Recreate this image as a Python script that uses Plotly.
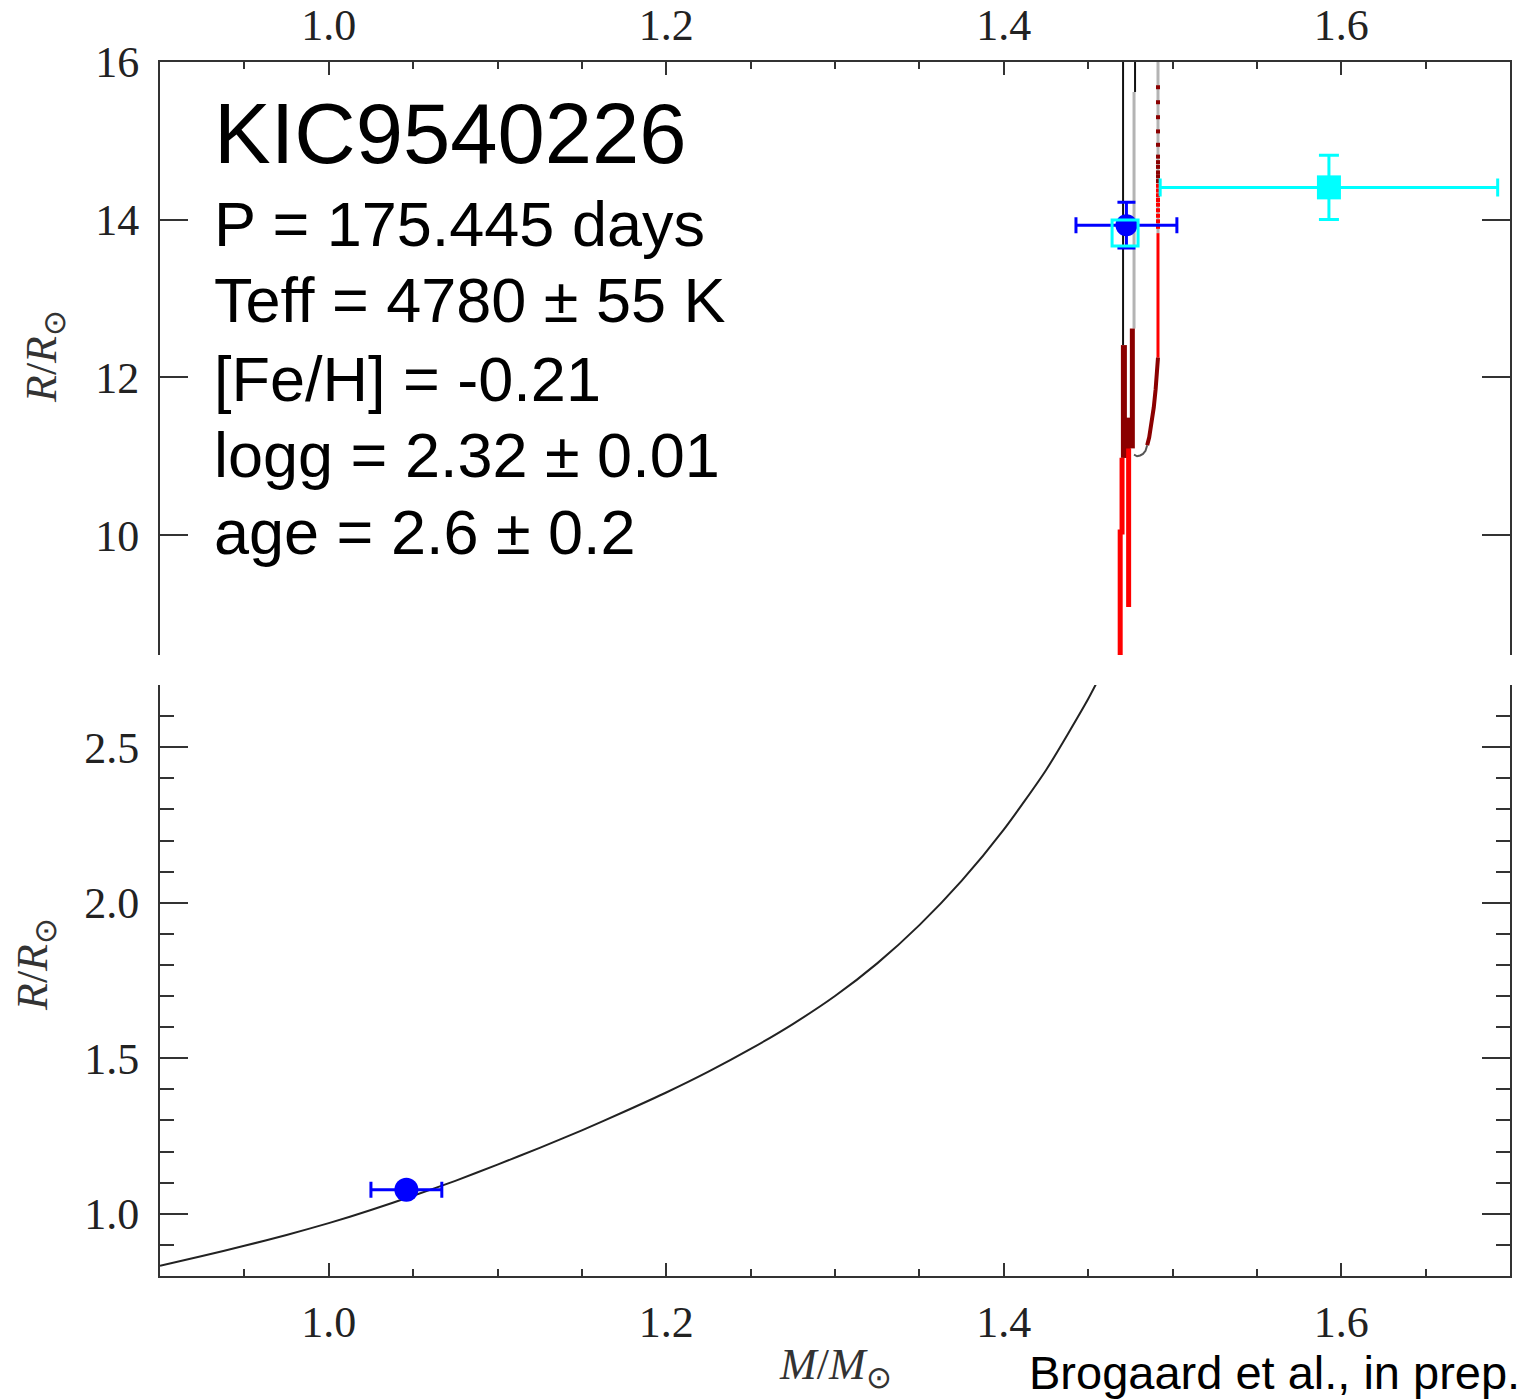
import plotly.graph_objects as go

W, H = 1537, 1399
L, R_, T, B = 160, 27, 62, 123

# ---------------- data ----------------
# bottom panel: main-sequence isochrone (read every 0.025 Msun)
ms_mass = [0.900, 0.925, 0.950, 0.975, 1.000, 1.025, 1.050, 1.075, 1.100, 1.125, 1.150, 1.175,
           1.200, 1.225, 1.250, 1.275, 1.300, 1.325, 1.350, 1.375, 1.400, 1.425, 1.450, 1.460]
ms_radius = [0.833, 0.864, 0.897, 0.932, 0.970, 1.012, 1.058, 1.106, 1.158, 1.212, 1.268, 1.328,
             1.390, 1.457, 1.530, 1.610, 1.700, 1.805, 1.928, 2.070, 2.235, 2.426, 2.655, 2.760]

# bottom panel: dwarf companion
dwarf_mass = [1.046]
dwarf_mass_err = [0.021]
dwarf_radius = [1.077]

# top panel: giant-branch tracks (pieces)
trA_black_m = [1.4707, 1.4707]
trA_black_r = [16.0, 12.41]
trA_dred_m = [1.4712, 1.4712]
trA_dred_r = [12.41, 10.98]
trAB_dred_m = [1.4728, 1.4728]
trAB_dred_r = [11.49, 10.98]
trA_red_m = [1.4701, 1.4701, 1.4690, 1.4690]
trA_red_r = [10.98, 10.04, 10.04, 8.48]

trB_black_m = [1.4778, 1.4778]
trB_black_r = [16.0, 15.62]
trB_grey_m = [1.4772, 1.4772]
trB_grey_r = [15.62, 12.62]
trB_dred_m = [1.4762, 1.4762]
trB_dred_r = [12.62, 11.10]
trB_red_m = [1.4740, 1.4740]
trB_red_r = [11.10, 9.09]

trC_grey_m = [1.4914, 1.4914]
trC_grey_r = [16.0, 13.83]
trC_dot_dred_r = [15.68, 15.49, 15.30, 15.12, 14.95, 14.80, 14.73, 14.67, 14.60, 14.55, 14.49]
trC_dot_red_r = [14.43, 14.37, 14.31, 14.25, 14.19, 14.12, 14.05, 13.98, 13.91]
trC_dot_m = 1.4914
trC_red_m = [1.4914, 1.4914]
trC_red_r = [13.83, 12.25]
trC_curve_m = [1.4914, 1.4908, 1.4900, 1.4889, 1.4875, 1.4862, 1.4850]
trC_curve_r = [12.25, 12.05, 11.85, 11.62, 11.40, 11.24, 11.14]
trC_hook_m = [1.4850, 1.4840, 1.4825, 1.4808, 1.4790, 1.4772]
trC_hook_r = [11.14, 11.07, 11.03, 11.01, 11.00, 11.02]

# top panel: giant observations
giant_mass = [1.4727]
giant_mass_err = [0.0299]
giant_radius = [13.93]
giant_radius_err = [0.29]
giant_alt_mass = [1.4719]
giant_alt_radius = [13.83]
astero_mass = [1.5927]
astero_mass_err = [0.100]
astero_radius = [14.41]
astero_radius_err = [0.406]

x_ticks = [1.0, 1.2, 1.4, 1.6]
top_y_ticks = [10, 12, 14, 16]
bot_y_ticks = [1.0, 1.5, 2.0, 2.5]

info_lines = ["KIC9540226", "P = 175.445 days", "Teff = 4780 ± 55 K",
              "[Fe/H] = -0.21", "logg = 2.32 ± 0.01", "age = 2.6 ± 0.2"]

# ---------------- figure ----------------
fig = go.Figure()
RED, DRED, GREY = "#ff0000", "#8b0000", "#b4b4b4"

def seg(m, r, color, width):
    fig.add_trace(go.Scatter(x=m, y=r, mode="lines", xaxis="x2", yaxis="y2",
                             line=dict(color=color, width=width), showlegend=False,
                             hoverinfo="skip"))

seg(trA_black_m, trA_black_r, "#111111", 2)
seg(trB_black_m, trB_black_r, "#111111", 2)
seg(trB_grey_m, trB_grey_r, GREY, 3)
seg(trC_grey_m, trC_grey_r, GREY, 3)
seg(trA_dred_m, trA_dred_r, DRED, 6)
seg(trB_dred_m, trB_dred_r, DRED, 5)
seg(trAB_dred_m, trAB_dred_r, DRED, 8)
seg(trA_red_m, trA_red_r, RED, 5)
seg(trB_red_m, trB_red_r, RED, 5)
seg(trC_red_m, trC_red_r, RED, 3)
seg(trC_curve_m, trC_curve_r, DRED, 4)
seg(trC_hook_m, trC_hook_r, "#555555", 2)
fig.add_trace(go.Scatter(x=[trC_dot_m] * len(trC_dot_dred_r), y=trC_dot_dred_r, mode="markers",
                         xaxis="x2", yaxis="y2", showlegend=False,
                         marker=dict(symbol="square", size=4, color=DRED)))
fig.add_trace(go.Scatter(x=[trC_dot_m] * len(trC_dot_red_r), y=trC_dot_red_r, mode="markers",
                         xaxis="x2", yaxis="y2", showlegend=False,
                         marker=dict(symbol="square", size=4, color=RED)))

# giant observation (blue)
fig.add_trace(go.Scatter(x=giant_mass, y=giant_radius, mode="markers", xaxis="x2", yaxis="y2",
                         showlegend=False,
                         marker=dict(symbol="circle", size=22, color="#0000ff"),
                         error_x=dict(type="data", array=giant_mass_err, color="#0000ff", thickness=3, width=8),
                         error_y=dict(type="data", array=giant_radius_err, color="#0000ff", thickness=3, width=9)))
fig.add_trace(go.Scatter(x=giant_alt_mass, y=giant_alt_radius, mode="markers", xaxis="x2", yaxis="y2",
                         showlegend=False,
                         marker=dict(symbol="square-open", size=26, color="#00ffff",
                                     line=dict(width=3, color="#00ffff"))))
fig.add_trace(go.Scatter(x=astero_mass, y=astero_radius, mode="markers", xaxis="x2", yaxis="y2",
                         showlegend=False,
                         marker=dict(symbol="square", size=24, color="#00ffff"),
                         error_x=dict(type="data", array=astero_mass_err, color="#00ffff", thickness=3, width=9),
                         error_y=dict(type="data", array=astero_radius_err, color="#00ffff", thickness=3, width=10)))

# bottom panel
fig.add_trace(go.Scatter(x=ms_mass, y=ms_radius, mode="lines", xaxis="x", yaxis="y",
                         line=dict(color="#222222", width=2, shape="spline", smoothing=0.6),
                         showlegend=False))
fig.add_trace(go.Scatter(x=dwarf_mass, y=dwarf_radius, mode="markers", xaxis="x", yaxis="y",
                         showlegend=False,
                         marker=dict(symbol="circle", size=24, color="#0000ff"),
                         error_x=dict(type="data", array=dwarf_mass_err, color="#0000ff", thickness=3, width=8)))

AX = "#333333"
TICKFONT = dict(family="Liberation Serif", size=44, color="#222222")
plot_h = H - T - B
top_dom = [(H - B - 655) / plot_h, 1.0]
bot_dom = [0.0, (H - B - 685) / plot_h]

common_x = dict(range=[0.9, 1.7], showgrid=False, zeroline=False, showline=True, linecolor=AX,
                linewidth=2, ticks="inside", ticklen=13, tickwidth=2, tickcolor=AX, automargin=False,
                tickvals=x_ticks, ticktext=[f"{v:.1f}" for v in x_ticks], tickfont=TICKFONT,
                minor=dict(dtick=0.05, tick0=0.9, ticklen=7, tickwidth=2, tickcolor=AX, ticks="inside"))

fig.update_layout(
    width=W, height=H, margin=dict(l=L, r=R_, t=T, b=B, autoexpand=False),
    paper_bgcolor="white", plot_bgcolor="white",
    xaxis=dict(common_x, anchor="y", side="bottom", domain=[0, 1], ticklabelstandoff=6),
    xaxis2=dict(common_x, anchor="y2", side="top", domain=[0, 1], ticklabelstandoff=2),
    yaxis=dict(domain=bot_dom, range=[0.8, 2.7], showgrid=False, zeroline=False, showline=True,
               linecolor=AX, linewidth=2, mirror="ticks", ticks="inside", ticklen=28, tickwidth=2,
               tickcolor=AX, tickvals=bot_y_ticks, ticktext=[f"{v:.1f}" for v in bot_y_ticks],
               tickfont=TICKFONT, ticklabelstandoff=10, automargin=False,
               minor=dict(dtick=0.1, tick0=0.8, ticklen=14, tickwidth=2, tickcolor=AX, ticks="inside")),
    yaxis2=dict(domain=top_dom, range=[8.48, 16.0], showgrid=False, zeroline=False, showline=True,
                linecolor=AX, linewidth=2, mirror="ticks", ticks="inside", ticklen=28, tickwidth=2,
                tickcolor=AX, tickvals=top_y_ticks, tickfont=TICKFONT, ticklabelstandoff=10,
                automargin=False),
)

def px2x(px):
    return (px - L) / (W - L - R_)

def py2y(py):
    return (H - B - py) / plot_h

# info text
sizes = [85, 63, 63, 63, 63, 63]
ys = [133, 224, 300, 379, 455, 532]
for txt, s, yy in zip(info_lines, sizes, ys):
    fig.add_annotation(text=txt, x=px2x(212), y=py2y(yy), xref="paper", yref="paper",
                       xanchor="left", yanchor="middle", showarrow=False,
                       font=dict(family="Liberation Sans", size=s, color="#000000"))

ytitle = "<i>R</i>/<i>R</i><sub>⊙</sub>"
fig.add_annotation(text=ytitle, x=px2x(45), y=py2y(357), xref="paper", yref="paper",
                   textangle=-90, showarrow=False, xanchor="center", yanchor="middle",
                   font=dict(family="Liberation Serif", size=44, color="#333333"))
fig.add_annotation(text=ytitle, x=px2x(35), y=py2y(965), xref="paper", yref="paper",
                   textangle=-90, showarrow=False, xanchor="center", yanchor="middle",
                   font=dict(family="Liberation Serif", size=44, color="#333333"))
fig.add_annotation(text="<i>M</i>/<i>M</i><sub>⊙</sub>", x=px2x(835), y=py2y(1367),
                   xref="paper", yref="paper", showarrow=False, xanchor="center", yanchor="middle",
                   font=dict(family="Liberation Serif", size=44, color="#333333"))
fig.add_annotation(text="Brogaard et al., in prep.", x=px2x(1522), y=py2y(1372),
                   xref="paper", yref="paper", showarrow=False, xanchor="right", yanchor="middle",
                   font=dict(family="Liberation Sans", size=47, color="#000000"))

fig.write_html("out.html")
